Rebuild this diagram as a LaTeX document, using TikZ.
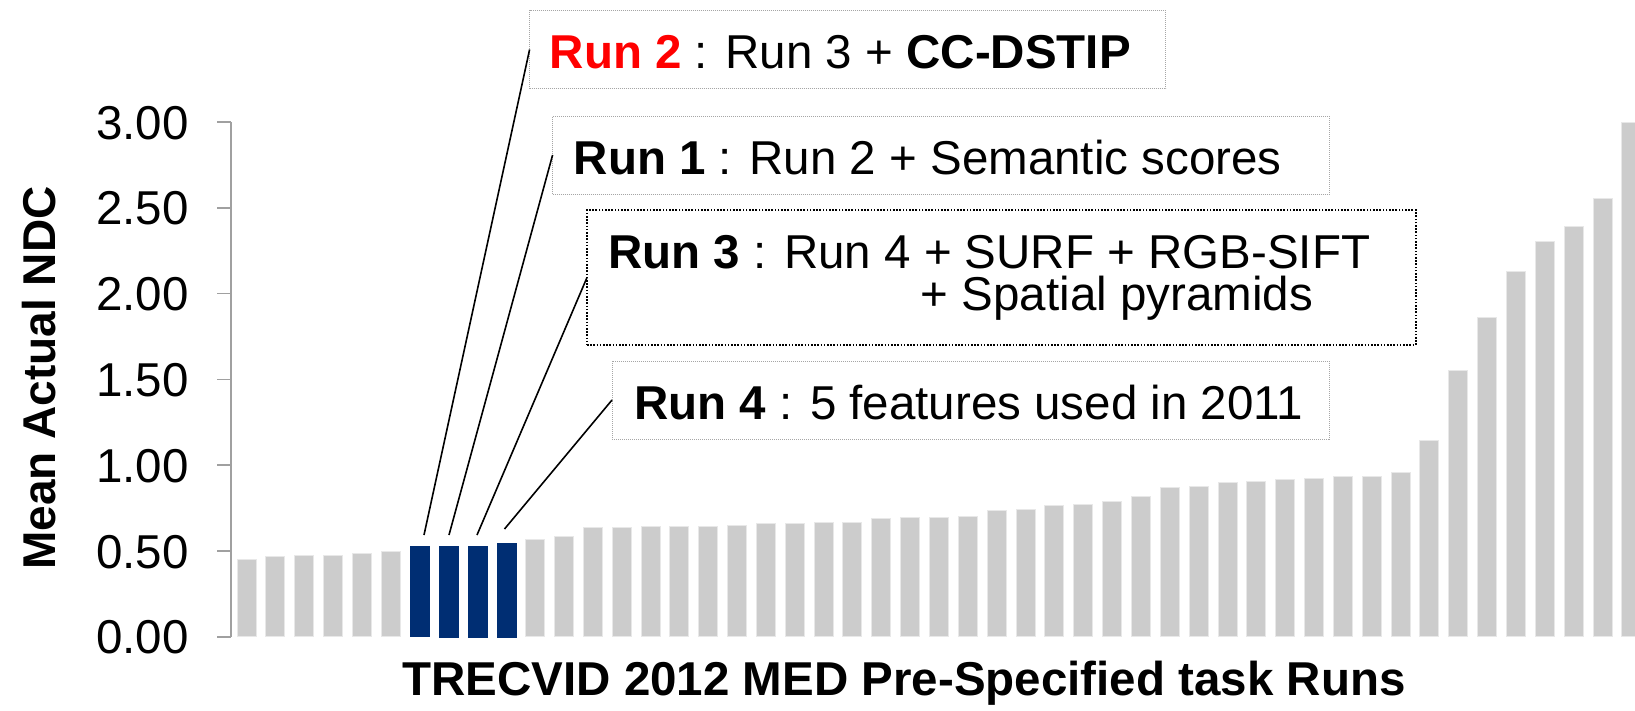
\documentclass[tikz,border=0pt]{standalone}
\usepackage{fontspec}
\setmainfont{Liberation Sans}
\usetikzlibrary{calc}

\definecolor{bargray}{RGB}{204,204,204}
\definecolor{baredge}{RGB}{232,232,232}
\definecolor{runblue}{RGB}{0,46,115}
\definecolor{axisgray}{RGB}{160,160,160}
\definecolor{runred}{RGB}{255,0,0}

\tikzset{
  graybar/.style={fill=bargray, draw=baredge, line width=0.8pt},
  bluebar/.style={fill=runblue, draw=none},
  axisline/.style={draw=axisgray, line width=1.6pt},
  notebox/.style={draw=gray!70, line width=1pt, dash pattern=on 1pt off 1pt,
                  inner sep=0pt, outer sep=0pt},
  notebox3/.style={draw=black, line width=1.6pt, dash pattern=on 1.6pt off 1.6pt,
                  inner sep=0pt, outer sep=0pt},
  leader/.style={draw=black, line width=1.6pt},
  notetext/.style={anchor=base west, inner sep=0pt, font=\fontsize{47.5}{42}\selectfont},
  ticklabel/.style={anchor=base east, inner sep=0pt, font=\fontsize{47.5}{52}\selectfont},
}

\begin{document}
\begin{tikzpicture}[x=1pt, y=-1pt]
\useasboundingbox (0,0) rectangle (1635,710);
\fill[white] (0,0) rectangle (1635,710);

% value axis with its ticks and labels
\draw[axisline] (231,122) -- (231,637);
\foreach \k/\lab in {0/3.00,1/2.50,2/2.00,3/1.50,4/1.00,5/0.50,6/0.00}{
  \pgfmathsetmacro{\ty}{122+85.8*\k}
  \draw[axisline] (217,\ty) -- (231,\ty);
  \node[ticklabel] (tick\k) at (189,\ty+17) {\lab};
}

% bars, one per submitted run (top edge in px)
\begin{scope}
\clip (0,0) rectangle (1635,710);
\foreach \top [count=\i from 0] in {559,556.7,555.7,555.7,553,551.3}{
  \fill[graybar] (237+28.85*\i,\top) rectangle ++(19,636.7-\top);
}
\foreach \top [count=\i from 10] in {539,536.3,527.7,527.7,526.7,526.7,526.7,525.7,523.7,523.7,
  522.3,522.3,518.7,517,517,516,510.7,509.3,505,504,501.3,496,487,486,482.3,481.3,
  479.7,478.7,476.3,476.3,472,440.3,370.7,317.3,271,241.3,226.7,198.7,122}{
  \fill[graybar] (237+28.85*\i,\top) rectangle ++(19,636.7-\top);
}
\end{scope}
\fill[bluebar] (410.1,546) rectangle (430,637);
\fill[bluebar] (439,546) rectangle (459,638);
\fill[bluebar] (467.8,546) rectangle (488,638);
\fill[bluebar] (496.6,543) rectangle (516.5,638);

% leader ends just above the four highlighted runs
\coordinate (r2end) at (424,535);
\coordinate (r1end) at (449,535);
\coordinate (r3end) at (477,535);
\coordinate (r4end) at (504.5,529);

% annotation boxes
\node[notebox, minimum width=636.3pt, minimum height=78.2pt] (box2) at (847.75,49.5) {};
\node[notebox, minimum width=776.7pt, minimum height=78pt] (box1) at (940.95,155) {};
\node[notebox3, minimum width=828.7pt, minimum height=135pt] (box3) at (1001.35,277.5) {};
\node[notebox, minimum width=717pt, minimum height=78pt] (box4) at (970.5,400) {};

\node[notetext] (txt2) at (549.5,68.5) {\textcolor{runred}{\textbf{Run 2}} : Run 3 + \textbf{CC-DSTIP}};
\node[notetext] (txt1) at (573.5,174) {\textbf{Run 1} : Run 2 + Semantic scores};
\node[notetext, anchor=north west, align=left] (txt3) at (608,235.5)
  {\textbf{Run 3} : Run 4 + SURF + RGB-SIFT\\\hspace*{312.7pt}+ Spatial pyramids};
\node[notetext] (txt4) at (634,419) {\textbf{Run 4} : 5 features used in 2011};

% leaders from the boxes to the bars
\draw[leader] (box2.west) -- (r2end);
\draw[leader] (box1.west) -- (r1end);
\draw[leader] (box3.west) -- (r3end);
\draw[leader] (box4.west) -- (r4end);

% axis titles
\node[anchor=center, inner sep=0pt, rotate=90, font=\fontsize{46}{50}\selectfont\bfseries] (ytitle) at (39,378) {Mean Actual NDC};
\node[anchor=base, inner sep=0pt, font=\fontsize{47.5}{52}\selectfont\bfseries] (xtitle) at (904,695) {TRECVID 2012 MED Pre-Specified task Runs};
\end{tikzpicture}
\end{document}
